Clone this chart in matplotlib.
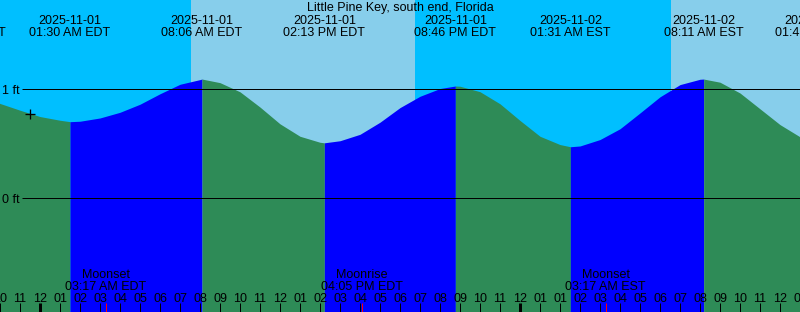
import matplotlib
matplotlib.use("Agg")
import matplotlib.pyplot as plt
import numpy as np

plt.rcParams["font.family"] = ["Liberation Sans", "DejaVu Sans"]

# ---------------------------------------------------------------------------
# Data (hours counted from 2025-11-01 00:00 EDT)
# ---------------------------------------------------------------------------
TITLE = "Little Pine Key, south end, Florida"

# tide height (ft)
sample_hours = list(range(-2, 39))
sample_heights = [
    0.870, 0.808, 0.750, 0.716, 0.707, 0.737, 0.789, 0.863, 0.959, 1.046,
    1.089, 1.061, 0.977, 0.837, 0.683, 0.569, 0.514, 0.528, 0.587, 0.698,
    0.832, 0.936, 1.007, 1.028, 0.978, 0.867, 0.714, 0.569, 0.493, 0.480,
    0.539, 0.638, 0.783, 0.931, 1.043, 1.092, 1.065, 0.966, 0.821, 0.676,
    0.564,
]

# high / low tides
extreme_hours = [-3.75, 1.5, 8.1, 14.217, 20.767, 26.517, 33.183, 38.8]
extreme_heights = [1.00, 0.703, 1.094, 0.509, 1.030, 0.473, 1.094, 0.45]
extreme_dates = ["2025-10-31", "2025-11-01", "2025-11-01", "2025-11-01",
                 "2025-11-01", "2025-11-02", "2025-11-02", "2025-11-02"]
extreme_times = ["08:15 PM EDT", "01:30 AM EDT", "08:06 AM EDT", "02:13 PM EDT",
                 "08:46 PM EDT", "01:31 AM EST", "08:11 AM EST", "01:48 PM EST"]

# sunrise / sunset
sunrise_hours = [7.55, 31.55]
sunset_hours = [18.75]

# moon events
moon_hours = [3.283, 16.083, 28.283]
moon_names = ["Moonset", "Moonrise", "Moonset"]
moon_times = ["03:17 AM EDT", "04:05 PM EDT", "03:17 AM EST"]

# hour tick labels (local clock, DST ends at 2 AM Nov 2)
hour_labels = [
    "10", "11", "12", "01", "02", "03", "04", "05", "06", "07", "08", "09",
    "10", "11", "12", "01", "02", "03", "04", "05", "06", "07", "08", "09",
    "10", "11", "12", "01", "01", "02", "03", "04", "05", "06", "07", "08",
    "09", "10", "11", "12", "01",
]
midnight_hours = [0, 24]

now_hour = -0.5
now_height = 0.775

level_lines = [1, 0]

# ---------------------------------------------------------------------------
# Colours / geometry
# ---------------------------------------------------------------------------
DAY = "#87ceeb"
NIGHT = "#00bfff"
EBB = "#2e8b57"
FLOOD = "#0000ff"

W_PX, H_PX = 800, 312
X0, X1 = -2, 38
Y0_PX, PX_PER_FT = 198.3, 109.0


def ft(ypx):
    """Pixel row -> feet."""
    return (Y0_PX - ypx) / PX_PER_FT


def hr(xpx):
    """Pixel column -> hours."""
    return X0 + xpx * (X1 - X0) / W_PX


LW1 = 72 / 100  # one pixel in points

fig = plt.figure(figsize=(W_PX / 100, H_PX / 100), dpi=100)
ax = fig.add_axes([0, 0, 1, 1])
ax.set_xlim(X0, X1)
ax.set_ylim(ft(H_PX), ft(0))
ax.axis("off")

# sky
edges = sorted([X0 - 5] + sunrise_hours + sunset_hours + [X1 + 5])
is_day = False
for a, b in zip(edges[:-1], edges[1:]):
    ax.axvspan(a, b, color=DAY if is_day else NIGHT, lw=0, zorder=0)
    is_day = not is_day

# tide curve, green while falling, blue while rising
t = np.array(sample_hours + extreme_hours, dtype=float)
h = np.array(sample_heights + extreme_heights, dtype=float)
order = np.argsort(t)
t, h = t[order], h[order]
bottom = ft(H_PX + 5)
for i in range(len(extreme_hours) - 1):
    a, b = extreme_hours[i], extreme_hours[i + 1]
    m = (t >= a) & (t <= b)
    rising = extreme_heights[i + 1] > extreme_heights[i]
    ax.fill_between(t[m], bottom, h[m], color=FLOOD if rising else EBB,
                    lw=0, zorder=1)

# level lines
for lv in level_lines:
    ax.hlines(lv, hr(22), X1, color="black", lw=LW1, zorder=3)
    ax.text(hr(2), ft(Y0_PX - lv * PX_PER_FT + 4.5), f"{lv} ft",
            ha="left", va="baseline", fontsize=9, zorder=4)

ax.plot([now_hour], [now_height], marker="+", ms=7, mew=LW1 * 1.3,
        color="black", zorder=4)

# top labels
ax.text(hr(400), ft(11), TITLE, ha="center", va="baseline", fontsize=9, zorder=4)
for x, d, s in zip(extreme_hours, extreme_dates, extreme_times):
    ax.text(x, ft(24), d, ha="center", va="baseline", fontsize=9, zorder=4)
    ax.text(x, ft(36), s, ha="center", va="baseline", fontsize=9, zorder=4)

# moon labels
for x, n, s in zip(moon_hours, moon_names, moon_times):
    ax.text(x, ft(278.3), n, ha="center", va="baseline", fontsize=9, zorder=4)
    ax.text(x, ft(290), s, ha="center", va="baseline", fontsize=9, zorder=4)

# hour ticks
for k, lab in zip(range(X0, X1 + 1), hour_labels):
    ax.text(k, ft(301.7), lab, ha="center", va="baseline", fontsize=9, zorder=4)
    lw = LW1 * 3 if k in midnight_hours else LW1
    ax.vlines(k, ft(303.3), ft(H_PX + 2), color="black", lw=lw, zorder=3)
for x in moon_hours:
    ax.vlines(x, ft(303.3), ft(H_PX + 2), color="red", lw=LW1, zorder=3)

fig.savefig("out.png", dpi=100)
